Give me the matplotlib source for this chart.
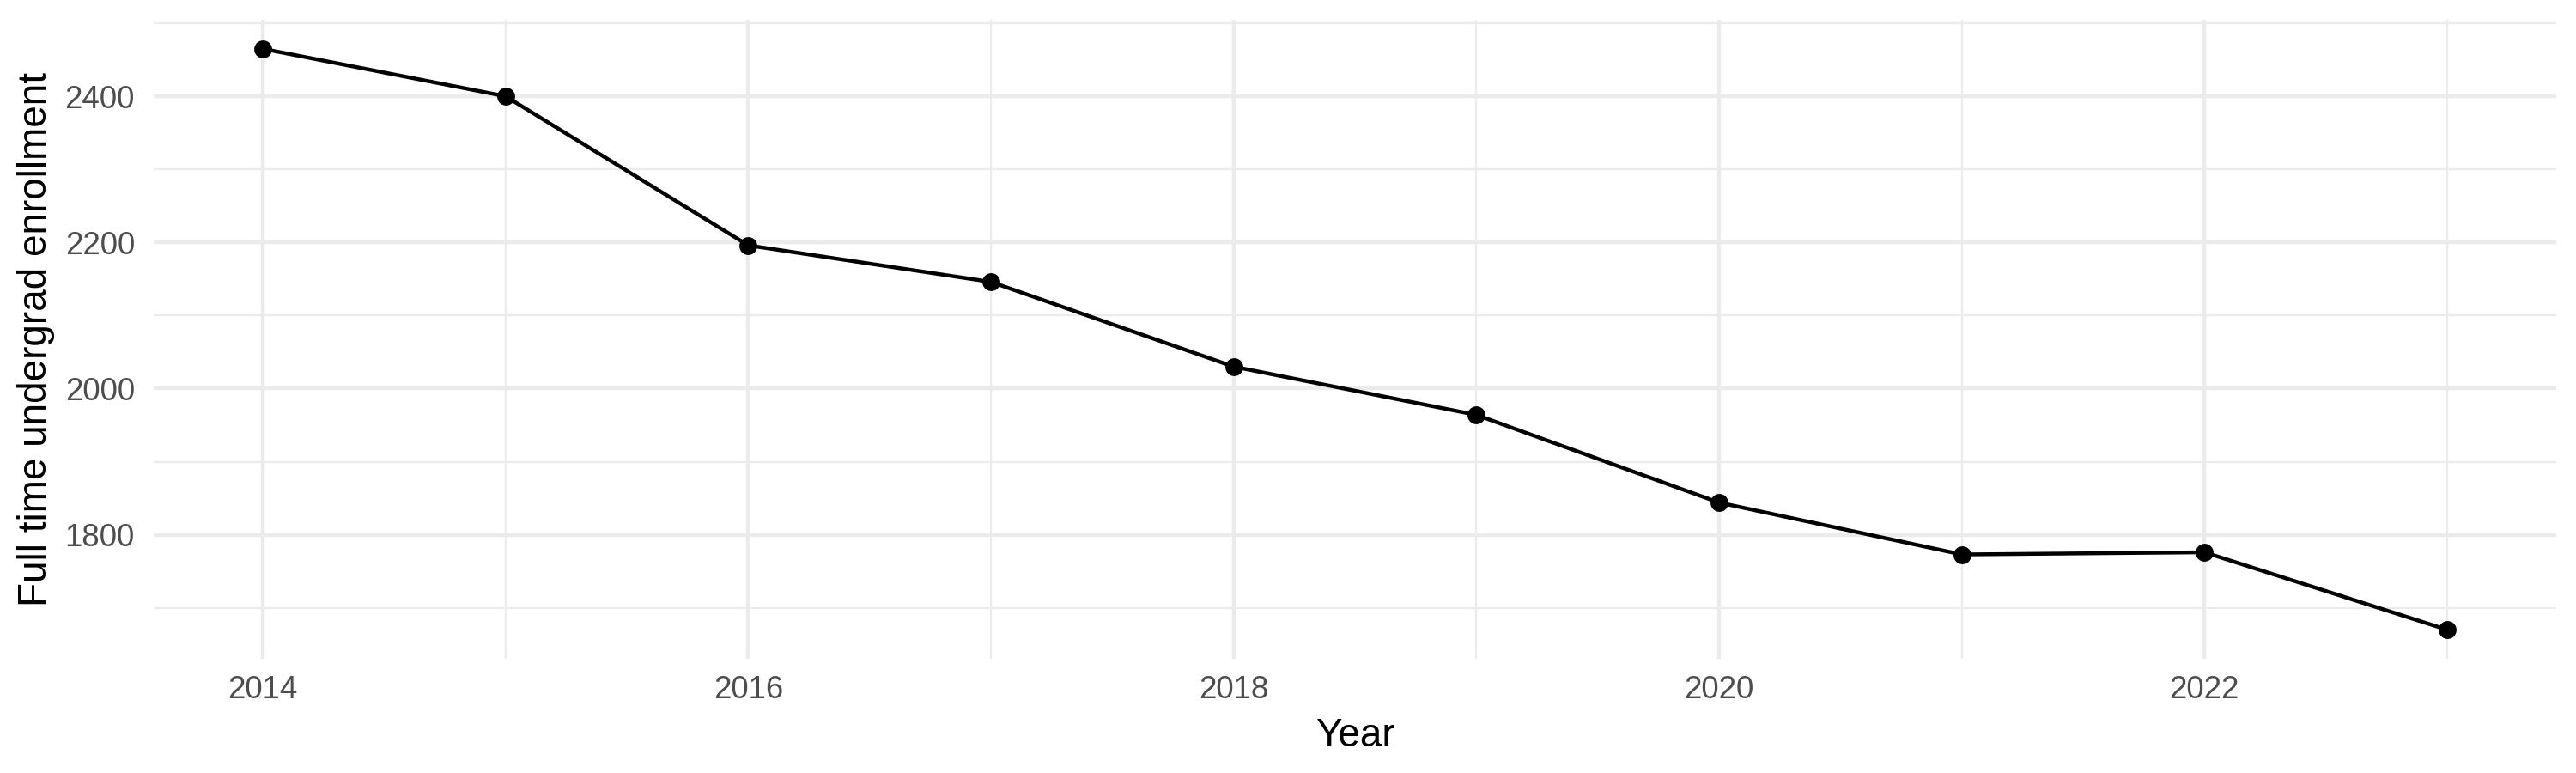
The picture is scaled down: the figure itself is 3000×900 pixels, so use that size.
import numpy as np
import matplotlib
matplotlib.use("Agg")
import matplotlib.pyplot as plt
from matplotlib.ticker import MultipleLocator

# data
years = [2014, 2015, 2016, 2017, 2018, 2019, 2020, 2021, 2022, 2023]
enrollment = [2465, 2400, 2196, 2146, 2030, 1964, 1844, 1773, 1776, 1670]

x_major = [2014, 2016, 2018, 2020, 2022]
y_major = [1800, 2000, 2200, 2400]

# style constants (ggplot2 theme_minimal look)
color_grid = "#EBEBEB"
color_tick_text = "#4D4D4D"
lw_major = 1.07
lw_minor = 0.53

plt.rcParams["font.family"] = ["Liberation Sans", "DejaVu Sans"]


def main():
    fig = plt.figure(figsize=(10, 3), dpi=300)
    ax = fig.add_axes([179 / 3000, 1 - 767 / 900, 2798 / 3000, 744 / 900])

    ax.plot(years, enrollment, color="black", lw=1.07, marker="o", markersize=5.0,
            markeredgewidth=0, zorder=3)

    # ggplot-like 5% expansion
    x_span = max(years) - min(years)
    y_span = max(enrollment) - min(enrollment)
    ax.set_xlim(min(years) - 0.05 * x_span, max(years) + 0.05 * x_span)
    ax.set_ylim(min(enrollment) - 0.05 * y_span, max(enrollment) + 0.05 * y_span)

    ax.set_xticks(x_major)
    ax.set_yticks(y_major)
    ax.xaxis.set_minor_locator(MultipleLocator(1))
    ax.yaxis.set_minor_locator(MultipleLocator(100))

    ax.grid(which="major", color=color_grid, lw=lw_major)
    ax.grid(which="minor", color=color_grid, lw=lw_minor)
    ax.set_axisbelow(True)

    for spine in ax.spines.values():
        spine.set_visible(False)
    ax.tick_params(which="both", length=0)
    ax.tick_params(axis="x", labelsize=8.8, labelcolor=color_tick_text, pad=4.6)
    ax.tick_params(axis="y", labelsize=8.8, labelcolor=color_tick_text, pad=5.3)

    ax.set_xlabel("Year", fontsize=11, color="black")
    ax.set_ylabel("Full time undergrad enrollment", fontsize=11, color="black")
    ax.xaxis.set_label_coords(0.5, -0.121)
    ax.xaxis.label.set_va("center")
    ax.yaxis.set_label_coords(-0.049, 0.5)
    ax.yaxis.label.set_va("center")

    fig.savefig("out.png", dpi=300, facecolor="white")


if __name__ == "__main__":
    main()
